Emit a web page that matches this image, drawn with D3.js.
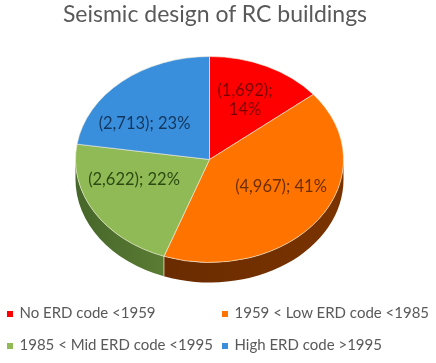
<!DOCTYPE html>
<html><head><meta charset="utf-8">
<script src="https://cdn.jsdelivr.net/npm/d3@7"></script>
<style>html,body{margin:0;background:#fff}svg{display:block;filter:blur(0.45px)}text{font-family:Lato,"Open Sans",sans-serif}</style>
</head><body><svg id="c" width="436" height="363"></svg>
<script>
const categories = ["No ERD code <1959","1959 < Low ERD code <1985","1985 < Mid ERD code <1995","High ERD code >1995"];
const values = [1692,4967,2622,2713];
const percents = [14,41,22,23];
const colors = ["#ff0000","#ff7300","#8fba55","#3a8fdc"];
const labelColors = ["#7a0000","#6e2e00","#2c4a12","#12365e"];
const labelLines = [["(1,692);","14%"],["(4,967); 41%"],["(2,622); 22%"],["(2,713); 23%"]];
const titleText = "Seismic design of RC buildings";

const W=436,H=363,cx=209.5,cy=159.5,rx=134,ry=103,depth=20;
const svg=d3.select("#c");
const pie=d3.pie().sort(null).value(d=>d)(values);
const px=a=>cx+rx*Math.sin(a), py=a=>cy-ry*Math.cos(a);
const defs=svg.append("defs");

svg.append("text").attr("x",215).attr("y",22).attr("text-anchor","middle")
  .attr("font-size",23).attr("fill","#595959").text(titleText);

const lo=Math.PI/2, hi=3*Math.PI/2;
pie.forEach((s,i)=>{
  const a0=Math.max(s.startAngle,lo), a1=Math.min(s.endAngle,hi);
  if(a1<=a0) return;
  const g=defs.append("linearGradient").attr("id","g"+i).attr("gradientUnits","userSpaceOnUse")
    .attr("x1",px(a0)).attr("x2",px(a1)).attr("y1",0).attr("y2",0);
  g.append("stop").attr("offset",0).attr("stop-color",i==1?"#7a3300":"#5a7c33");
  g.append("stop").attr("offset",1).attr("stop-color",i==1?"#6a2c00":"#46662a");
  const d=`M${px(a0)},${py(a0)}A${rx},${ry} 0 0 1 ${px(a1)},${py(a1)}`+
          `L${px(a1)},${py(a1)+depth}A${rx},${ry} 0 0 0 ${px(a0)},${py(a0)+depth}Z`;
  svg.append("path").attr("d",d).attr("fill",`url(#g${i})`);
});
const seam=pie[1].endAngle;
svg.append("line").attr("x1",px(seam)).attr("x2",px(seam)).attr("y1",py(seam)).attr("y2",py(seam)+depth)
  .attr("stroke","#e8e0c8").attr("stroke-width",0.8);

const arc=d3.arc().innerRadius(0).outerRadius(rx);
svg.append("g").attr("transform",`translate(${cx},${cy}) scale(1,${ry/rx})`)
  .selectAll("path").data(pie).join("path").attr("d",arc)
  .attr("fill",(d,i)=>colors[i]).attr("stroke","#f3ecd8").attr("stroke-width",0.8).attr("stroke-opacity",0.85);

const labelPos=[[245,96],[281,192],[134,185],[144.5,129]];
labelLines.forEach((ls,i)=>{
  const t=svg.append("text").attr("text-anchor","middle").attr("font-size",16.5).attr("fill",labelColors[i]);
  ls.forEach((l,j)=>t.append("tspan").attr("x",labelPos[i][0]).attr("y",labelPos[i][1]+j*19).text(l));
});

const legend=[[7,318],[222,318],[7,350],[222,350]];
categories.forEach((c,i)=>{
  svg.append("rect").attr("x",legend[i][0]).attr("y",legend[i][1]-7).attr("width",6).attr("height",6).attr("fill",colors[i]);
  svg.append("text").attr("x",legend[i][0]+12.5).attr("y",legend[i][1]).attr("font-size",15).attr("fill","#595959").text(c);
});
</script></body></html>
